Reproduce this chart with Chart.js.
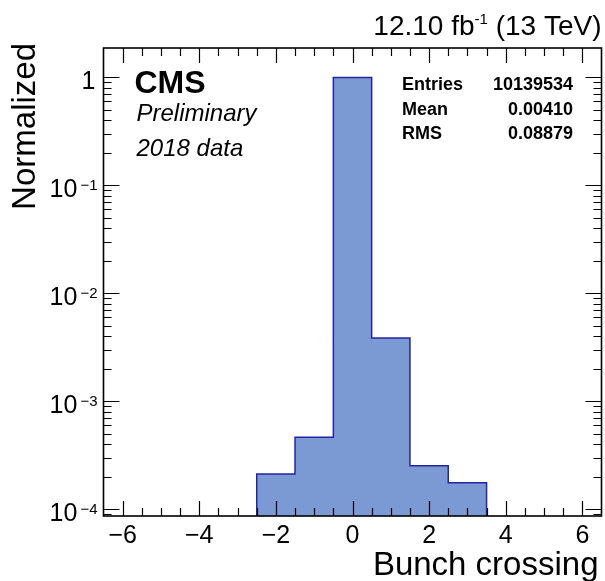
<!DOCTYPE html>
<html>
<head>
<meta charset="utf-8">
<script src="https://cdn.jsdelivr.net/npm/chart.js@4/dist/chart.umd.min.js"></script>
<style>
  html, body { margin: 0; padding: 0; background: #ffffff; }
  #wrap { width: 605px; height: 581px; }
</style>
</head>
<body>
<div id="wrap"><canvas id="c" width="605" height="581"></canvas></div>
<script>
// Bunch-crossing distribution (unit-area normalised histogram, 1 BX wide bins)
const binCenters = [-2, -1, 0, 1, 2, 3];
const binValues = [2.12e-4, 4.65e-4, 0.995, 3.85e-3, 2.53e-4, 1.76e-4];
const binWidth = 1;

// Axis ranges and labelled ticks
const xRange = [-6.5, 6.5];
const yRange = [8.67e-5, 1.87];
const xTickValues = [-6, -4, -2, 0, 2, 4, 6];
const yTickExponents = [0, -1, -2, -3, -4];

// Statistics box
const statLabels = ['Entries', 'Mean', 'RMS'];
const statValues = ['10139534', '0.00410', '0.08879'];

const FONT = "'Liberation Sans', Arial, Helvetica, sans-serif";

// Outline of the histogram as a stepped path: rise at the first low edge,
// step across each bin, drop at the last high edge.
const lowEdges = binCenters.map(c => c - binWidth / 2);
const histPoints = [{ x: lowEdges[0], y: yRange[0] }];
binValues.forEach((v, i) => histPoints.push({ x: lowEdges[i], y: v }));
histPoints.push({ x: binCenters[binCenters.length - 1] + binWidth / 2, y: yRange[0] });

const minusFmt = v => (v < 0 ? '\u2212' + Math.abs(v) : String(v));

// Frame, inward ticks on all four sides and all annotation text
const rootStyle = {
  id: 'rootStyle',
  afterDraw(chart) {
    const { ctx, chartArea: a, scales: { x, y } } = chart;
    ctx.save();

    // ticks
    ctx.strokeStyle = '#000';
    ctx.lineWidth = 1.2;
    ctx.beginPath();
    for (let v = xRange[0] + 0.5; v < xRange[1]; v += 0.5) {
      const px = Math.round(x.getPixelForValue(v)) + 0.5;
      const len = Math.abs(v % 2) < 1e-9 ? 15 : 8;
      ctx.moveTo(px, a.bottom); ctx.lineTo(px, a.bottom - len);
      ctx.moveTo(px, a.top); ctx.lineTo(px, a.top + len);
    }
    for (let e = -5; e <= 0; e++) {
      for (let m = 1; m <= 9; m++) {
        const v = m * Math.pow(10, e);
        if (v <= yRange[0] || v >= yRange[1]) continue;
        const py = Math.round(y.getPixelForValue(v)) + 0.5;
        const len = m === 1 ? 16 : 8;
        ctx.moveTo(a.left, py); ctx.lineTo(a.left + len, py);
        ctx.moveTo(a.right, py); ctx.lineTo(a.right - len, py);
      }
    }
    ctx.stroke();

    // frame
    ctx.lineWidth = 1.6;
    ctx.strokeRect(a.left, a.top, a.right - a.left, a.bottom - a.top);

    ctx.fillStyle = '#000';

    // y tick labels with superscript exponents
    const labelRight = a.left - 6;
    yTickExponents.forEach(e => {
      const py = y.getPixelForValue(Math.pow(10, e));
      ctx.textBaseline = 'alphabetic';
      ctx.textAlign = 'right';
      if (e === 0) {
        ctx.font = `25px ${FONT}`;
        ctx.fillText('1', labelRight - 2, py + 12);
        return;
      }
      const sup = '\u2212' + (-e);
      ctx.font = `15px ${FONT}`;
      const supW = ctx.measureText(sup).width;
      ctx.fillText(sup, labelRight, py + 5);
      ctx.font = `25px ${FONT}`;
      ctx.fillText('10', labelRight - supW - 3, py + 12);
    });

    // axis titles
    ctx.font = `33px ${FONT}`;
    ctx.textAlign = 'right';
    ctx.fillText('Bunch crossing', a.right - 3, 575);
    ctx.save();
    ctx.translate(35, a.top - 5);
    ctx.rotate(-Math.PI / 2);
    ctx.font = `33px ${FONT}`;
    ctx.textAlign = 'right';
    ctx.fillText('Normalized', 0, 0);
    ctx.restore();

    // luminosity / energy label
    {
      const base = 35;
      let xr = a.right;
      ctx.textAlign = 'right';
      ctx.font = `28px ${FONT}`;
      const tail = ' (13 TeV)';
      ctx.fillText(tail, xr, base);
      xr -= ctx.measureText(tail).width;
      ctx.font = `15px ${FONT}`;
      ctx.fillText('-1', xr, base - 11);
      xr -= ctx.measureText('-1').width;
      ctx.font = `28px ${FONT}`;
      ctx.fillText('12.10 fb', xr, base);
    }

    // experiment label
    ctx.textAlign = 'left';
    ctx.font = `bold 32px ${FONT}`;
    ctx.fillText('CMS', a.left + 31, 93);
    ctx.font = `italic 24px ${FONT}`;
    ctx.fillText('Preliminary', a.left + 33, 121);
    ctx.fillText('2018 data', a.left + 33, 156);

    // statistics box
    ctx.font = `bold 18px ${FONT}`;
    statLabels.forEach((lab, i) => {
      const base = 90 + i * 24.5;
      ctx.textAlign = 'left';
      ctx.fillText(lab, 402, base);
      ctx.textAlign = 'right';
      ctx.fillText(statValues[i], 573, base);
    });

    ctx.restore();
  }
};

new Chart(document.getElementById('c'), {
  type: 'line',
  data: {
    datasets: [{
      data: histPoints,
      stepped: true,
      borderColor: '#2424a4',
      borderWidth: 1.5,
      backgroundColor: '#7b9ad3',
      fill: 'start',
      pointRadius: 0,
      tension: 0
    }]
  },
  options: {
    responsive: false,
    animation: false,
    devicePixelRatio: 1,
    layout: { padding: { left: 0, top: 48, right: 3.5, bottom: 0 } },
    plugins: { legend: { display: false }, tooltip: { enabled: false } },
    scales: {
      x: {
        type: 'linear',
        min: xRange[0],
        max: xRange[1],
        afterBuildTicks: s => { s.ticks = xTickValues.map(v => ({ value: v })); },
        afterFit: s => { s.height = 65; },
        grid: { display: false, drawTicks: false },
        border: { display: false },
        ticks: {
          color: '#000',
          font: { family: FONT, size: 25 },
          padding: 5,
          maxRotation: 0,
          autoSkip: false,
          callback: v => minusFmt(v)
        }
      },
      y: {
        type: 'logarithmic',
        min: yRange[0],
        max: yRange[1],
        afterFit: s => { s.width = 103.5; },
        grid: { display: false, drawTicks: false },
        border: { display: false },
        ticks: { display: false }
      }
    }
  },
  plugins: [rootStyle]
});
</script>
</body>
</html>
